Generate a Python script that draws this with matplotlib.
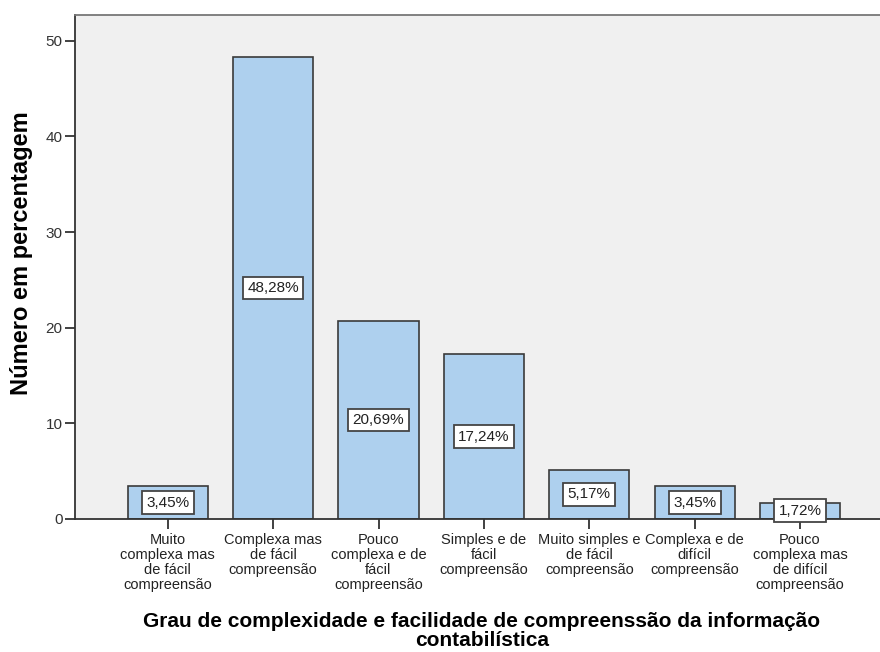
import numpy as np
import matplotlib.pyplot as plt

plt.rcParams['font.family'] = ['Liberation Sans', 'DejaVu Sans']

categorias = ['Muito\ncomplexa mas\nde fácil\ncompreensão',
              'Complexa mas\nde fácil\ncompreensão',
              'Pouco\ncomplexa e de\nfácil\ncompreensão',
              'Simples e de\nfácil\ncompreensão',
              'Muito simples e\nde fácil\ncompreensão',
              'Complexa e de\ndifícil\ncompreensão',
              'Pouco\ncomplexa mas\nde difícil\ncompreensão']
valores = [3.45, 48.28, 20.69, 17.24, 5.17, 3.45, 1.72]
rotulos = ['3,45%', '48,28%', '20,69%', '17,24%', '5,17%', '3,45%', '1,72%']
yticks = [0, 10, 20, 30, 40, 50]

fig = plt.figure(figsize=(8.8, 6.52), dpi=100)
ax = fig.add_axes([75 / 880, 133 / 652, 822 / 880, 504 / 652])
ax.set_facecolor('#f0f0f0')

x = np.arange(len(valores))
ax.bar(x, valores, width=0.76, color='#aed0ee', edgecolor='#3a3a3a', linewidth=1.2, zorder=2)

for xi, v, r in zip(x, valores, rotulos):
    ax.text(xi, v / 2, r, ha='center', va='center', fontsize=11, color='#222222', zorder=3,
            bbox=dict(boxstyle='square,pad=0.28', facecolor='white', edgecolor='#444444', linewidth=1.3))

ax.set_xlim(-0.88, 6.92)
ax.set_ylim(0, 52.7)
ax.set_yticks(yticks)
ax.set_xticks(x)
ax.set_xticklabels(categorias, fontsize=10.5, linespacing=1.08, color='#222222')
ax.tick_params(axis='y', labelsize=11, colors='#333333', length=7, width=1.3, pad=2)
ax.tick_params(axis='x', length=7, width=1.3, color='#333333', pad=3)

for s in ['left', 'bottom']:
    ax.spines[s].set_color('#333333')
    ax.spines[s].set_linewidth(1.3)
ax.spines['top'].set_color('#777777')
ax.spines['top'].set_linewidth(1.3)
ax.spines['right'].set_visible(False)

fig.text(22 / 880, 1 - 253 / 652, 'Número em percentagem', rotation=90,
         ha='center', va='center', fontsize=17, fontweight='bold')
fig.text(482 / 880, 1 - 631 / 652, 'Grau de complexidade e facilidade de compreenssão da informação\ncontabilística',
         ha='center', va='center', fontsize=15, fontweight='bold', linespacing=1.05)

fig.savefig('out.png', dpi=100, facecolor='white')
